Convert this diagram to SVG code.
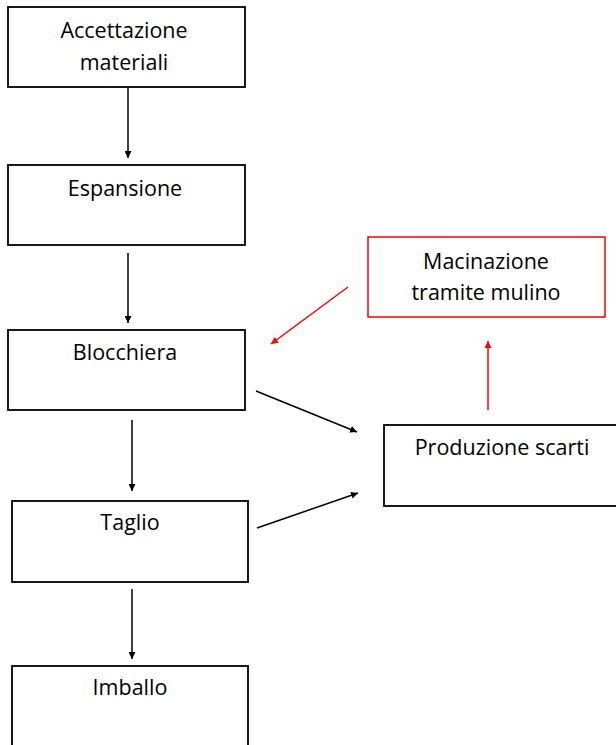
<svg xmlns="http://www.w3.org/2000/svg" width="616" height="745" viewBox="0 0 616 745">
<style>
.box{fill:#fff;stroke:#000;stroke-width:1.8}
.red{fill:#fff;stroke:#f00;stroke-width:1.5}
.t{font-family:"Open Sans","Noto Sans","Liberation Sans",sans-serif;font-size:21.5px;fill:#000;text-anchor:middle}
.c{stroke:#000;stroke-width:1.5;fill:none}
.cr{stroke:#f00;stroke-width:1.5;fill:none}
</style>
<defs>
<marker id="ab" viewBox="0 0 10 10" refX="10" refY="5" markerWidth="7" markerHeight="7" markerUnits="userSpaceOnUse" orient="auto"><path d="M0,0L10,5L0,10z" fill="#000"/></marker>
<marker id="ar" viewBox="0 0 10 10" refX="10" refY="5" markerWidth="7" markerHeight="7" markerUnits="userSpaceOnUse" orient="auto"><path d="M0,0L10,5L0,10z" fill="#f00"/></marker>
</defs>
<rect width="616" height="745" fill="#fff"/>
<g id="n1"><rect class="box" x="8" y="7" width="237" height="80"/><text class="t" x="124" y="38">Accettazione</text><text class="t" x="124" y="70">materiali</text></g>
<g id="n2"><rect class="box" x="8" y="165" width="237" height="80"/><text class="t" x="125" y="196">Espansione</text></g>
<g id="n3"><rect class="box" x="8" y="330" width="237" height="80"/><text class="t" x="125" y="360">Blocchiera</text></g>
<g id="n4"><rect class="box" x="12" y="501" width="236" height="81"/><text class="t" x="130" y="530">Taglio</text></g>
<g id="n5"><rect class="box" x="12" y="666" width="236" height="82"/><text class="t" x="130" y="695">Imballo</text></g>
<g id="n6"><rect class="red" x="368" y="237" width="237" height="80"/><text class="t" x="486" y="269">Macinazione</text><text class="t" x="486" y="300">tramite mulino</text></g>
<g id="n7"><rect class="box" x="384" y="425" width="240" height="81"/><text class="t" x="502" y="455">Produzione scarti</text></g>
<g id="connectors">
<line class="c" x1="128" y1="88" x2="128" y2="158" marker-end="url(#ab)"/>
<line class="c" x1="128" y1="253" x2="128" y2="323" marker-end="url(#ab)"/>
<line class="c" x1="132" y1="420" x2="132" y2="491" marker-end="url(#ab)"/>
<line class="c" x1="132" y1="589" x2="132" y2="659" marker-end="url(#ab)"/>
<line class="c" x1="256" y1="391" x2="357" y2="432" marker-end="url(#ab)"/>
<line class="c" x1="257" y1="528" x2="358" y2="493" marker-end="url(#ab)"/>
<line class="cr" x1="488" y1="410" x2="488" y2="341" marker-end="url(#ar)"/>
<line class="cr" x1="348" y1="287" x2="271" y2="344" marker-end="url(#ar)"/>
</g>
</svg>
